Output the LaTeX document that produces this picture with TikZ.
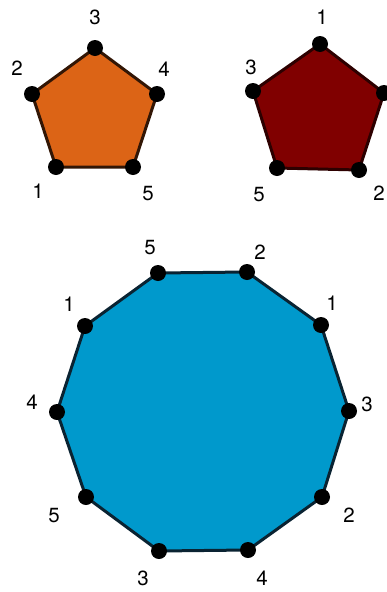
\documentclass[tikz,border=0pt]{standalone}
\usepackage{fontspec}
\setmainfont{TeX Gyre Heros}
\definecolor{orangefill}{RGB}{220,100,22}
\definecolor{orangeedge}{RGB}{50,22,5}
\definecolor{redfill}{RGB}{128,0,0}
\definecolor{rededge}{RGB}{45,0,0}
\definecolor{bluefill}{RGB}{0,153,204}
\definecolor{blueedge}{RGB}{10,35,50}
\tikzset{
  vdot/.style={circle,fill=black,inner sep=0pt,minimum size=16pt},
  lbl/.style={inner sep=0pt,font=\fontsize{20.5}{25}\selectfont},
  poly/.style={line width=3pt,line join=miter}
}
\begin{document}
\begin{tikzpicture}[x=1pt,y=-1pt]
\useasboundingbox (0,0) rectangle (387,592);
\fill[white] (0,0) rectangle (387,592);
% orange pentagon
\coordinate (o3) at (95,48);
\coordinate (o4) at (157,94);
\coordinate (o5) at (133,167);
\coordinate (o1) at (56,167);
\coordinate (o2) at (32,94);
\draw[poly,fill=orangefill,draw=orangeedge] (o3) -- (o4) -- (o5) -- (o1) -- (o2) -- cycle;
\foreach \v in {o1,o2,o3,o4,o5} \node[vdot] (d\v) at (\v) {};
\node[lbl] (lo3) at (95,17) {3};
\node[lbl] (lo2) at (17,68) {2};
\node[lbl] (lo4) at (164,69) {4};
\node[lbl] (lo1) at (38,191) {1};
\node[lbl] (lo5) at (148,194) {5};
% red pentagon
\coordinate (r1) at (320,44);
\coordinate (r4) at (384,93);
\coordinate (r2) at (359,170);
\coordinate (r5) at (277,168);
\coordinate (r3) at (253,91);
\draw[poly,fill=redfill,draw=rededge] (r1) -- (r4) -- (r2) -- (r5) -- (r3) -- cycle;
\foreach \v in {r1,r2,r3,r4,r5} \node[vdot] (d\v) at (\v) {};
\node[lbl] (lr1) at (322,17) {1};
\node[lbl] (lr3) at (251,67) {3};
\node[lbl] (lr4) at (393,66) {4};
\node[lbl] (lr5) at (259,195) {5};
\node[lbl] (lr2) at (379,193) {2};
% blue decagon
\coordinate (b1) at (158,273);
\coordinate (b2) at (247,272);
\coordinate (b3) at (321,325);
\coordinate (b4) at (349,411);
\coordinate (b5) at (322,497);
\coordinate (b6) at (248,550);
\coordinate (b7) at (159,551);
\coordinate (b8) at (86,497);
\coordinate (b9) at (57,412);
\coordinate (b10) at (85,326);
\draw[poly,fill=bluefill,draw=blueedge] (b1) -- (b2) -- (b3) -- (b4) -- (b5) -- (b6) -- (b7) -- (b8) -- (b9) -- (b10) -- cycle;
\foreach \v in {b1,b2,b3,b4,b5,b6,b7,b8,b9,b10} \node[vdot] (d\v) at (\v) {};
\node[lbl] (lb1) at (150,248) {5};
\node[lbl] (lb2) at (260,252) {2};
\node[lbl] (lb3) at (332,303) {1};
\node[lbl] (lb4) at (367,404) {3};
\node[lbl] (lb5) at (349,515) {2};
\node[lbl] (lb6) at (262,578) {4};
\node[lbl] (lb7) at (143,578) {3};
\node[lbl] (lb8) at (54,516) {5};
\node[lbl] (lb9) at (32,402) {4};
\node[lbl] (lb10) at (69,304) {1};
\end{tikzpicture}
\end{document}
